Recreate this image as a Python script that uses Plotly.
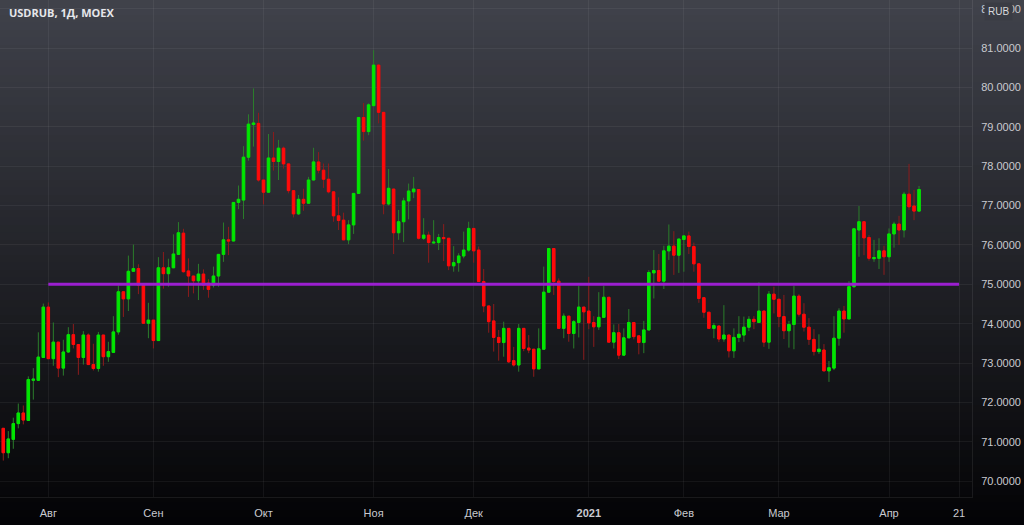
import pandas as pd
import plotly.graph_objects as go

# ---------------- data ----------------
title_text = "USDRUB, 1Д, MOEX"
currency = "RUB"
holidays = ["2020-11-04", "2021-01-01", "2021-01-07", "2021-02-23", "2021-03-08"]
first_day = "2020-07-21"
calendar_end = "2021-04-30"

opens = [71.34, 70.72, 71.06, 71.46, 71.73, 71.54, 72.56, 72.56, 73.14, 74.42,
         73.11, 73.53, 72.87, 73.28, 73.72, 73.47, 73.14, 73.71, 72.96, 72.86,
         73.71, 73.16, 73.27, 73.79, 74.81, 74.63, 75.33, 75.40, 74.98, 74.01,
         74.09, 73.57, 75.42, 75.27, 75.42, 75.76, 76.30, 75.34, 75.21, 75.09,
         75.26, 75.03, 74.98, 75.21, 75.76, 76.13, 76.10, 77.08, 77.14, 78.23,
         79.06, 79.09, 77.65, 77.34, 78.21, 78.12, 78.46, 78.06, 77.38, 76.79,
         77.16, 77.06, 77.65, 78.11, 77.90, 77.67, 77.35, 76.74, 76.63, 76.13,
         76.51, 77.31, 79.24, 78.88, 79.54, 80.57, 79.37, 77.04, 77.42, 76.31,
         76.59, 77.12, 77.35, 77.41, 76.17, 76.25, 76.05, 76.06, 76.19, 76.17,
         75.47, 75.55, 75.72, 75.87, 76.42, 75.87, 75.07, 74.45, 74.07, 73.65,
         73.52, 73.88, 73.06, 72.95, 73.88, 73.38, 73.35, 72.85, 73.35, 74.80,
         75.91, 75.08, 73.88, 74.19, 73.75, 74.03, 74.42, 74.32, 74.03, 73.92,
         74.16, 74.67, 73.53, 73.77, 73.20, 73.64, 74.03, 73.69, 73.52, 73.84,
         75.29, 75.35, 75.08, 75.85, 75.97, 75.74, 76.14, 76.23, 75.96, 75.52,
         74.66, 74.29, 73.88, 73.94, 73.61, 73.71, 73.31, 73.65, 73.71, 73.91,
         74.11, 74.03, 74.32, 73.53, 74.75, 74.62, 74.18, 73.82, 73.98, 74.70,
         74.24, 73.91, 73.60, 73.29, 73.33, 72.80, 72.87, 73.63, 74.32, 74.12,
         74.94, 76.38, 76.59, 76.19, 75.65, 75.66, 75.85, 75.70, 76.28, 76.53,
         76.38, 77.29, 76.99, 76.86]
highs = [71.34, 71.27, 71.61, 71.97, 71.92, 72.66, 72.87, 73.78, 74.51, 74.54,
         74.03, 73.53, 73.59, 73.91, 73.99, 73.48, 73.81, 73.75, 73.49, 73.79,
         73.71, 73.54, 74.19, 74.97, 74.81, 75.73, 76.01, 75.51, 74.98, 74.53,
         74.09, 75.69, 75.82, 75.65, 76.27, 76.58, 76.41, 75.66, 75.21, 75.52,
         75.38, 75.13, 75.45, 75.76, 76.57, 76.46, 77.08, 77.51, 78.51, 79.32,
         79.98, 79.36, 77.65, 78.82, 78.87, 78.67, 78.50, 78.06, 77.38, 77.27,
         77.43, 77.73, 78.47, 78.36, 78.07, 78.07, 77.35, 77.21, 76.82, 76.63,
         77.31, 79.24, 79.61, 79.60, 80.95, 80.60, 79.37, 77.93, 77.42, 76.89,
         77.20, 77.56, 77.73, 77.41, 76.68, 76.34, 76.63, 76.28, 76.53, 76.17,
         75.97, 75.79, 76.34, 76.59, 76.42, 75.96, 75.39, 74.45, 74.50, 73.84,
         74.05, 73.88, 73.41, 73.99, 73.88, 73.71, 73.35, 73.88, 75.45, 75.91,
         75.91, 75.15, 74.26, 74.19, 74.09, 74.96, 74.42, 75.19, 74.19, 74.80,
         74.96, 74.67, 73.98, 73.99, 73.88, 74.37, 74.03, 73.69, 74.07, 75.36,
         75.87, 75.77, 75.98, 76.52, 76.35, 76.15, 76.23, 76.34, 76.06, 75.52,
         74.66, 74.29, 74.02, 73.94, 74.47, 73.71, 73.88, 74.19, 74.18, 74.19,
         74.19, 75.05, 74.32, 74.83, 74.94, 74.62, 74.73, 74.07, 74.96, 74.75,
         74.52, 74.14, 73.86, 73.73, 73.48, 73.05, 74.19, 74.39, 74.45, 75.08,
         76.41, 76.99, 76.59, 76.25, 76.13, 76.17, 75.98, 76.42, 76.59, 76.74,
         77.35, 78.06, 77.40, 77.50]
lows = [70.52, 70.58, 70.82, 71.34, 71.44, 71.54, 72.07, 72.56, 73.14, 73.11,
        72.93, 72.64, 72.68, 73.26, 73.37, 72.70, 72.96, 72.96, 72.81, 72.78,
        72.93, 73.03, 73.27, 73.72, 74.17, 74.32, 75.33, 74.75, 74.00, 73.63,
        73.37, 73.57, 74.89, 74.94, 75.42, 75.76, 75.30, 74.68, 74.77, 74.60,
        74.86, 74.66, 74.92, 74.94, 75.57, 75.74, 76.10, 76.91, 76.66, 78.14,
        78.50, 77.61, 77.03, 77.34, 77.89, 77.65, 77.94, 77.31, 76.70, 76.76,
        76.87, 77.06, 77.65, 77.82, 77.45, 77.31, 76.59, 76.38, 76.13, 76.02,
        76.28, 77.31, 78.65, 78.79, 79.54, 79.09, 76.78, 77.00, 75.77, 76.13,
        76.07, 76.65, 77.19, 76.14, 76.13, 75.55, 76.04, 75.87, 75.59, 75.36,
        75.32, 75.32, 75.66, 75.83, 75.55, 75.07, 74.29, 73.77, 73.29, 73.06,
        73.16, 73.00, 72.91, 72.78, 73.30, 73.25, 72.65, 72.85, 73.35, 74.80,
        74.73, 73.88, 73.63, 73.54, 73.37, 73.65, 73.08, 73.86, 73.41, 73.84,
        74.16, 73.53, 73.37, 73.10, 73.20, 73.64, 73.60, 73.22, 73.25, 73.84,
        74.64, 75.08, 74.88, 75.62, 75.24, 75.29, 75.32, 75.77, 75.32, 74.53,
        74.15, 73.88, 73.63, 73.53, 73.54, 73.14, 73.13, 73.53, 73.54, 73.81,
        73.86, 74.03, 73.41, 73.36, 74.26, 73.91, 73.61, 73.39, 73.35, 74.18,
        73.80, 73.46, 73.19, 73.23, 72.80, 72.52, 72.82, 73.44, 73.77, 74.12,
        74.91, 75.70, 75.74, 75.60, 75.57, 75.39, 75.24, 75.57, 75.93, 76.00,
        76.19, 76.89, 76.63, 76.86]
closes = [70.72, 71.07, 71.46, 71.73, 71.55, 72.58, 72.59, 73.15, 74.42, 73.11,
          73.53, 72.87, 73.28, 73.72, 73.47, 73.14, 73.71, 72.96, 72.86, 73.71,
          73.16, 73.29, 73.79, 74.81, 74.63, 75.33, 75.40, 74.98, 74.01, 74.09,
          73.57, 75.42, 75.27, 75.42, 75.77, 76.31, 75.32, 75.21, 75.09, 75.26,
          74.98, 74.87, 75.21, 75.76, 76.13, 76.10, 77.08, 77.16, 78.23, 79.07,
          79.10, 77.65, 77.34, 78.21, 78.12, 78.46, 78.06, 77.38, 76.79, 77.16,
          77.06, 77.65, 78.11, 77.90, 77.67, 77.35, 76.74, 76.62, 76.13, 76.51,
          77.31, 79.24, 78.88, 79.56, 80.57, 79.37, 77.04, 77.44, 76.31, 76.59,
          77.12, 77.37, 77.42, 76.17, 76.25, 76.06, 76.07, 76.19, 76.16, 75.47,
          75.55, 75.72, 75.87, 76.42, 75.85, 75.07, 74.45, 74.05, 73.65, 73.52,
          73.88, 73.03, 72.95, 73.88, 73.37, 73.33, 72.85, 73.36, 74.80, 75.91,
          75.07, 73.88, 74.19, 73.75, 74.05, 74.42, 74.30, 74.02, 73.92, 74.16,
          74.67, 73.53, 73.77, 73.20, 73.64, 74.03, 73.67, 73.52, 73.84, 75.30,
          75.35, 75.08, 75.85, 75.97, 75.74, 76.15, 76.23, 75.96, 75.52, 74.64,
          74.29, 73.88, 73.95, 73.61, 73.71, 73.31, 73.65, 73.73, 73.91, 74.11,
          74.05, 74.32, 73.53, 74.75, 74.62, 74.18, 73.82, 73.98, 74.70, 74.24,
          73.91, 73.60, 73.29, 73.35, 72.80, 72.88, 73.63, 74.32, 74.12, 74.94,
          76.41, 76.59, 76.18, 75.66, 75.68, 75.85, 75.70, 76.28, 76.53, 76.38,
          77.29, 76.97, 76.86, 77.41]

level_value = 75.0
level_start = "2020-08-03"
level_end = "2021-04-21"

tick_dates = ["2020-08-03", "2020-09-01", "2020-10-01", "2020-11-02", "2020-12-01",
              "2021-01-04", "2021-02-01", "2021-03-01", "2021-04-01", "2021-04-21"]
tick_labels = ["Авг", "Сен", "Окт", "Ноя", "Дек", "<b>2021</b>", "Фев", "Мар", "Апр", "21"]
y_ticks = [70, 71, 72, 73, 74, 75, 76, 77, 78, 79, 80, 81, 82]

# ---------------- trading calendar (bar index axis) ----------------
cal = [d.strftime("%Y-%m-%d") for d in pd.bdate_range(first_day, calendar_end)]
cal = [d for d in cal if d not in holidays]
pos = {d: i for i, d in enumerate(cal)}
n = len(opens)
xs = list(range(n))

body_hi = [max(o, c) for o, c in zip(opens, closes)]
body_lo = [min(o, c) for o, c in zip(opens, closes)]

GREEN = "#00e600"
RED = "#ff0a0a"
GREEN_W = "#2b7d2b"
RED_W = "#8c1c1c"

fig = go.Figure()
# wicks (darker)
fig.add_trace(go.Candlestick(
    x=xs, open=opens, high=highs, low=lows, close=closes,
    increasing=dict(line=dict(color=GREEN_W, width=1), fillcolor=GREEN_W),
    decreasing=dict(line=dict(color=RED_W, width=1), fillcolor=RED_W),
    whiskerwidth=0, hoverinfo="skip", showlegend=False))
# bodies (bright)
fig.add_trace(go.Candlestick(
    x=xs, open=opens, high=body_hi, low=body_lo, close=closes,
    increasing=dict(line=dict(color=GREEN, width=1), fillcolor=GREEN),
    decreasing=dict(line=dict(color=RED, width=1), fillcolor=RED),
    whiskerwidth=0, hoverinfo="skip", showlegend=False))
# horizontal level
fig.add_trace(go.Scatter(
    x=[pos[level_start], pos[level_end]], y=[level_value, level_value],
    mode="lines", line=dict(color="#9b1fd0", width=3),
    hoverinfo="skip", showlegend=False))

# ---------------- background gradient ----------------
W, H = 1024, 525
ml, mr, mt, mb = 0, 52, 0, 28
plot_w = W - ml - mr
plot_h = H - mt - mb
top_rgb = (64, 66, 75)
bot_rgb = (3, 3, 5)
bands = 70
shapes = []
for k in range(bands):
    r0 = H * k / bands
    r1 = H * (k + 1) / bands + 1
    t = (k + 0.5) / bands
    col = tuple(round(a + (b - a) * t) for a, b in zip(top_rgb, bot_rgb))
    shapes.append(dict(
        type="rect", xref="paper", yref="paper", layer="below",
        x0=-0.05, x1=1.1,
        y0=(mt + plot_h - r1) / plot_h, y1=(mt + plot_h - r0) / plot_h,
        fillcolor="rgb(%d,%d,%d)" % col, line=dict(width=0)))

x0_px = 3.3
px_per_bar = 5.004
x_range = [-x0_px / px_per_bar, (plot_w - x0_px) / px_per_bar]
px_per_unit = 39.35
y75_px = 284.3
y_range = [75 - (plot_h - y75_px) / px_per_unit, 75 + y75_px / px_per_unit]

fig.update_layout(
    width=W, height=H,
    margin=dict(l=ml, r=mr, t=mt, b=mb),
    paper_bgcolor="#000000",
    plot_bgcolor="rgba(0,0,0,0)",
    shapes=shapes,
    showlegend=False,
    boxgap=0.3,
    font=dict(family="Liberation Sans, Arial, sans-serif", color="#c9cad0", size=11),
    xaxis=dict(
        range=x_range, rangeslider=dict(visible=False),
        tickmode="array", tickvals=[pos[d] for d in tick_dates], ticktext=tick_labels,
        showgrid=True, gridcolor="rgba(255,255,255,0.055)", gridwidth=1,
        zeroline=False, showline=True, linecolor="rgba(255,255,255,0.08)",
        ticks="outside", ticklen=6, tickcolor="rgba(0,0,0,0)",
        tickfont=dict(size=11, color="#c9cad0"), fixedrange=True),
    yaxis=dict(
        range=y_range, side="right",
        tickmode="array", tickvals=y_ticks, tickformat=".4f",
        showgrid=True, gridcolor="rgba(255,255,255,0.055)", gridwidth=1,
        zeroline=False, showline=True, linecolor="rgba(255,255,255,0.08)",
        ticks="outside", ticklen=6, tickcolor="rgba(0,0,0,0)",
        tickfont=dict(size=11, color="#c9cad0"), fixedrange=True),
    annotations=[
        dict(text="<b>" + title_text + "</b>", xref="paper", yref="paper",
             x=7 / plot_w, y=(plot_h - 13) / plot_h, xanchor="left", yanchor="middle",
             showarrow=False, font=dict(size=11, color="#e6e7ea",
                                        family="Open Sans, Liberation Sans, sans-serif")),
        dict(text=currency, xref="paper", yref="paper",
             x=998 / plot_w, y=(plot_h - 11) / plot_h, xanchor="center", yanchor="middle",
             showarrow=False, bgcolor="rgb(58,60,68)", borderpad=3,
             font=dict(size=10, color="#d8d9dd")),
    ],
)

fig.write_html(
    "out.html",
    config={"displayModeBar": False, "staticPlot": True},
    post_script="document.body.style.margin='0';document.body.style.padding='0';"
                "document.body.style.overflow='hidden';document.body.style.background='#000';",
)
